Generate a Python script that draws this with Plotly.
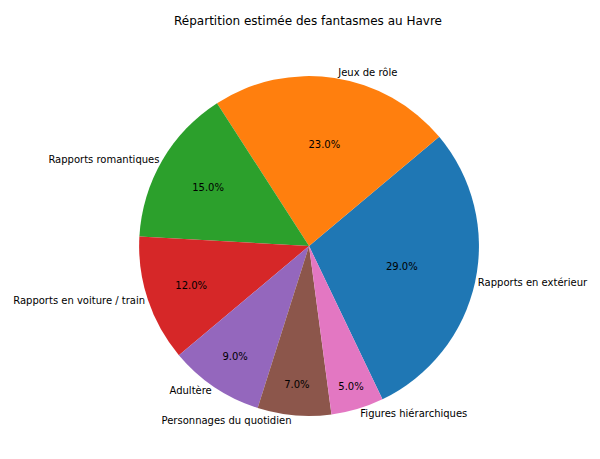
import plotly.graph_objects as go

labels = ["Rapports en extérieur", "Jeux de rôle", "Rapports romantiques",
          "Rapports en voiture / train", "Adultère", "Personnages du quotidien",
          "Figures hiérarchiques"]
values = [29, 23, 15, 12, 9, 7, 5]
colors = ["#1f77b4", "#ff7f0e", "#2ca02c", "#d62728", "#9467bd", "#8c564b", "#e377c2"]

dom = dict(x=[0.208, 0.782], y=[0.107, 0.856])
fig = go.Figure()
fig.add_trace(go.Pie(labels=labels, values=values, sort=False, direction="counterclockwise",
                     rotation=50, marker=dict(colors=colors), texttemplate="%{percent:.1%}",
                     textposition="inside", insidetextorientation="horizontal",
                     textfont=dict(color="black", size=10, family="DejaVu Sans"),
                     domain=dom, showlegend=False, hoverinfo="skip"))
fig.add_trace(go.Pie(labels=labels, values=values, sort=False, direction="counterclockwise",
                     rotation=50, marker=dict(colors=["rgba(0,0,0,0)"] * len(values)),
                     textinfo="label", textposition="outside",
                     textfont=dict(color="black", size=10, family="DejaVu Sans"),
                     domain=dom, showlegend=False, hoverinfo="skip"))
fig.update_layout(width=600, height=459, margin=dict(l=0, r=0, t=0, b=0),
                  paper_bgcolor="white",
                  title=dict(text="Répartition estimée des fantasmes au Havre", x=0.5, y=0.972,
                             xanchor="center", yanchor="middle",
                             font=dict(size=12, family="DejaVu Sans", color="black")))
fig.write_html("out.html")
